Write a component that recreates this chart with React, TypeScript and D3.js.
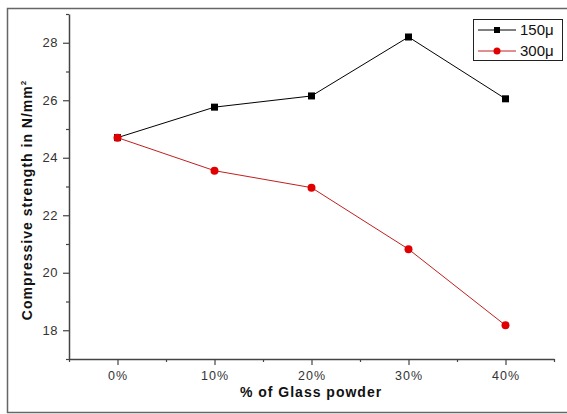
import React, { useEffect, useRef } from 'react';
import * as d3 from 'd3';

// glass powder replacement (%)
const glassPct = [0, 10, 20, 30, 40];
const s150 = [24.7, 25.76, 26.15, 28.2, 26.05];
const s300 = [24.7, 23.55, 22.96, 20.82, 18.17];
const xTicks = [0, 10, 20, 30, 40];
const yTicks = [18, 20, 22, 24, 26, 28];

export default function App() {
  const ref = useRef<SVGSVGElement>(null);

  useEffect(() => {
    const svg = d3.select(ref.current);
    svg.selectAll('*').remove();

    const width = 567;
    const height = 414;
    const margin = { top: 14, right: 13, bottom: 55, left: 69 };
    const chartW = width - margin.left - margin.right;
    const chartH = height - margin.top - margin.bottom;
    const font = 'Arial, "Liberation Sans", sans-serif';

    // outer frame
    svg.append('rect')
      .attr('x', 7.5).attr('y', 8.5)
      .attr('width', 565).attr('height', 404)
      .attr('fill', 'none').attr('stroke', '#666').attr('stroke-width', 1.5);

    const chart = svg.append('g')
      .attr('transform', `translate(${margin.left},${margin.top})`);

    const x = d3.scaleLinear().domain([-5, 45]).range([0, chartW]);
    const y = d3.scaleLinear().domain([17, 29]).range([chartH, 0]);

    const axisColor = '#444';
    const labelColor = '#333';

    // x axis
    const xAxis = chart.append('g').attr('transform', `translate(0,${chartH})`);
    xAxis.append('g')
      .call(d3.axisBottom(x).tickValues([-5, 5, 15, 25, 35, 45]).tickSize(3).tickFormat(() => '').tickSizeOuter(0))
      .call(g => g.select('.domain').remove());
    xAxis.append('g')
      .call(d3.axisBottom(x).tickValues(xTicks).tickSize(6).tickSizeOuter(0).tickFormat(d => `${d}%`))
      .call(g => g.select('.domain').attr('stroke', axisColor).attr('stroke-width', 1.5));
    xAxis.selectAll('line').attr('stroke', axisColor).attr('stroke-width', 1.2);
    xAxis.selectAll('text')
      .attr('fill', labelColor)
      .attr('y', 12)
      .style('font-family', font)
      .style('font-size', '12.5px')
      .style('letter-spacing', '1px');

    // y axis
    const yAxis = chart.append('g');
    yAxis.append('g')
      .call(d3.axisLeft(y).tickValues([17, 19, 21, 23, 25, 27, 29]).tickSize(3).tickFormat(() => '').tickSizeOuter(0))
      .call(g => g.select('.domain').remove());
    yAxis.append('g')
      .call(d3.axisLeft(y).tickValues(yTicks).tickSize(6).tickSizeOuter(0))
      .call(g => g.select('.domain').attr('stroke', axisColor).attr('stroke-width', 1.5));
    yAxis.selectAll('line').attr('stroke', axisColor).attr('stroke-width', 1.2);
    yAxis.selectAll('text')
      .attr('fill', labelColor)
      .attr('x', -11)
      .style('font-family', font)
      .style('font-size', '13px')
      .style('letter-spacing', '0.5px');

    // axis titles
    svg.append('text')
      .attr('x', 311).attr('y', 397)
      .attr('text-anchor', 'middle')
      .style('font-family', font)
      .style('font-size', '14px').style('font-weight', 'bold')
      .style('letter-spacing', '1px')
      .attr('fill', '#111')
      .text('%  of Glass powder');

    const yt = svg.append('text')
      .attr('transform', 'translate(32,200) rotate(-90)')
      .attr('text-anchor', 'middle')
      .style('font-family', font)
      .style('font-size', '14px').style('font-weight', 'bold')
      .style('letter-spacing', '1px')
      .attr('fill', '#111');
    yt.append('tspan').text('Compressive strength in N/mm');
    yt.append('tspan').attr('dy', -6).style('font-size', '8px').text('2');

    const line = d3.line<number>()
      .x((d, i) => x(glassPct[i]))
      .y(d => y(d));

    const black = '#000';
    const red = '#e00000';

    chart.append('path').datum(s150)
      .attr('d', line).attr('fill', 'none').attr('stroke', black).attr('stroke-width', 1);
    chart.append('path').datum(s300)
      .attr('d', line).attr('fill', 'none').attr('stroke', '#c02020').attr('stroke-width', 1);

    chart.selectAll('.sq')
      .data(s150).enter().append('rect')
      .attr('x', (d, i) => x(glassPct[i]) - 3.5)
      .attr('y', d => y(d) - 3.5)
      .attr('width', 7).attr('height', 7)
      .attr('fill', black);
    chart.selectAll('.dot')
      .data(s300).enter().append('circle')
      .attr('cx', (d, i) => x(glassPct[i]))
      .attr('cy', d => y(d))
      .attr('r', 4)
      .attr('fill', red);

    // legend
    const lg = svg.append('g');
    lg.append('rect')
      .attr('x', 473.5).attr('y', 19.5).attr('width', 89).attr('height', 41)
      .attr('fill', '#fff').attr('stroke', '#222').attr('stroke-width', 1);
    const items = [
      { name: '150\u03bc', color: black, lineColor: black, shape: 'sq' },
      { name: '300\u03bc', color: red, lineColor: '#c02020', shape: 'dot' },
    ];
    items.forEach((it, i) => {
      const cy = 30 + i * 21;
      lg.append('line')
        .attr('x1', 478).attr('x2', 516).attr('y1', cy).attr('y2', cy)
        .attr('stroke', it.lineColor).attr('stroke-width', 1);
      if (it.shape === 'sq') {
        lg.append('rect').attr('x', 494).attr('y', cy - 3).attr('width', 6).attr('height', 6).attr('fill', it.color);
      } else {
        lg.append('circle').attr('cx', 497).attr('cy', cy).attr('r', 3.5).attr('fill', it.color);
      }
      lg.append('text')
        .attr('x', 520).attr('y', cy + 5)
        .style('font-family', font)
        .style('font-size', '15px')
        .attr('fill', '#111')
        .text(it.name);
    });
  }, []);

  return (
    <svg ref={ref} width={567} height={414}
      style={{ position: 'absolute', left: 0, top: 0, background: '#fff' }} />
  );
}
